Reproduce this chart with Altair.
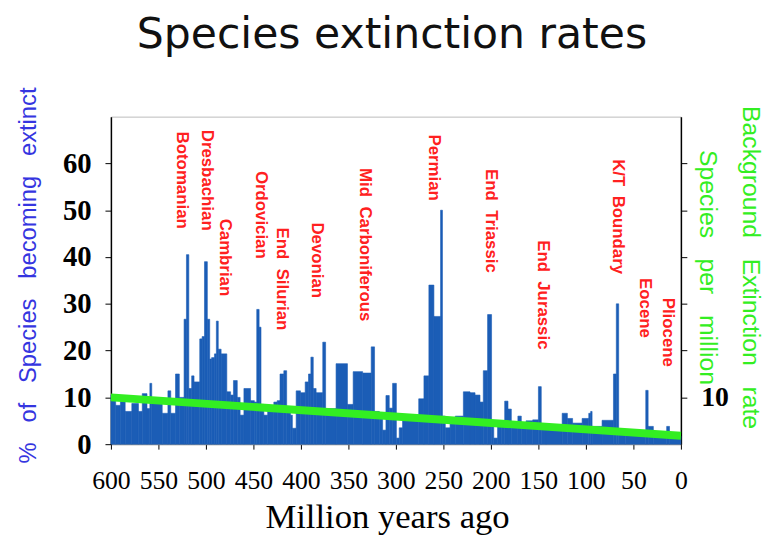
import altair as alt
import pandas as pd

# Step-series of extinction percentages: segment edges (Myr ago) and heights (%)
breaks = [600, 595, 590, 585, 578, 571, 567, 562, 559, 557, 546, 540, 537, 532, 528, 523,
          520.5, 518, 515, 512.5, 506.5, 504, 501.5, 498.5, 496, 494, 491, 489, 487, 484,
          478, 474, 471, 467, 464, 460, 453, 449, 446.5, 444, 442, 439, 435, 428.5, 425,
          422, 418, 415, 411, 409, 405, 400.5, 395.5, 392, 389.5, 387, 384, 377, 374, 363,
          351, 345, 335, 326, 322.5, 317.5, 314, 310.5, 307, 303.5, 299.5, 296.5, 293, 276,
          270.5, 265.3, 260, 253, 251, 248, 243, 237.5, 229, 222, 216.7, 211.5, 208, 203.5,
          199.3, 197, 193, 189, 185.5, 182, 178.5, 171.6, 168, 163, 156, 150, 147, 142, 125,
          119.5, 114, 104, 97, 95, 93.5, 83, 71, 68, 65.5, 58.5, 37, 34.5, 29, 15, 12, 0]
pct_extinct = [10.5, 8.3, 9.1, 7.0, 8.7, 7.0, 10.8, 7.6, 13.0, 8.7, 6.6, 11.4, 6.6, 15.0, 10.0,
               26.7, 40.5, 11.9, 14.6, 13.3, 22.5, 23.0, 39.0, 26.7, 18.2, 18.5, 19.3, 26.3,
               20.3, 19.3, 11.2, 10.5, 13.6, 10.0, 6.2, 11.9, 9.3, 9.0, 28.8, 25.0, 8.5, 6.2,
               7.6, 9.0, 9.3, 15.0, 15.7, 7.6, 6.2, 3.4, 11.4, 11.0, 13.3, 15.0, 18.6, 11.9,
               11.0, 21.8, 7.6, 17.2, 8.5, 15.5, 15.2, 20.8, 7.0, 6.0, 3.0, 10.4, 7.7, 13.0,
               1.3, 3.5, 5.8, 9.7, 14.6, 34.0, 27.3, 50.0, 6.0, 3.5, 4.5, 6.0, 11.2, 11.0,
               10.5, 9.0, 15.7, 27.7, 4.5, 1.3, 4.0, 5.0, 9.2, 7.5, 4.0, 6.0, 4.5, 5.0, 5.2,
               12.3, 4.0, 3.5, 6.6, 5.5, 4.5, 5.5, 6.6, 7.0, 3.8, 5.1, 15.0, 30.0, 2.7, 2.0,
               11.5, 3.8, 2.0, 3.8, 1.7]

# Background extinction rate line
bg_age = [600, 0]
bg_rate = [10.0, 1.8]

# Event labels
event_names = ["Botomanian", "Dresbachian", "Cambrian", "Ordovician", "End\u00a0\u00a0Silurian",
               "Devonian", "Mid\u00a0\u00a0Carboniferous", "Permian", "End\u00a0\u00a0Triassic",
               "End\u00a0\u00a0Jurassic", "K/T\u00a0\u00a0Boundary", "Eocene", "Pliocene"]
event_age = [525, 499, 480, 442, 420, 383, 333, 260, 199.5, 145, 66.7, 38, 14]
event_top = [66.8, 67.2, 48.2, 58.4, 46.3, 47.4, 59.0, 66.2, 58.8, 43.6, 60.9, 35.5, 31.3]

x_ticks = list(range(0, 601, 50))
y_ticks = [0, 10, 20, 30, 40, 50, 60]

BLUE = "#1b5db6"
GREEN = "#33ee22"
RED = "#ff2020"
SP = "\u00a0\u00a0\u00a0"

bar_df = pd.DataFrame({"start": breaks[:-1], "end": breaks[1:], "pct": pct_extinct})
line_df = pd.DataFrame({"age": bg_age, "rate": bg_rate})
ev_df = pd.DataFrame({"name": event_names, "age": event_age, "top": event_top})

xscale = alt.Scale(domain=[0, 600], reverse=True, nice=False, zero=False)
yscale = alt.Scale(domain=[0, 70], nice=False, zero=True)

x_axis = alt.Axis(values=x_ticks, grid=False, labelFont="Liberation Serif", labelFontSize=26,
                  labelColor="black", labelPadding=19, labelFlush=False, labelOverlap=False,
                  tickSize=5, tickColor="black", domainColor="#888888",
                  title="Million years ago", titleFont="Liberation Serif", titleFontSize=35,
                  titleFontWeight="normal", titleColor="black", titleX=279, titleY=84,
                  titleAlign="center", titleBaseline="alphabetic")

left_axis = alt.Axis(values=y_ticks, orient="left", grid=False, labelFont="Liberation Serif",
                     labelFontSize=29, labelFontWeight="bold", labelColor="black",
                     labelPadding=14, tickSize=6, tickColor="black", domainColor="black",
                     domainWidth=1.5,
                     title="%" + SP + "of" + SP + "Species" + SP + "becoming" + SP + "extinct",
                     titleFont="Liberation Sans", titleFontSize=24, titleFontWeight="normal",
                     titleColor="#3535e0", titleAngle=270, titleX=-83, titleY=160,
                     titleAlign="center", titleBaseline="middle")

right_axis = alt.Axis(values=[10, 20, 30, 40, 50, 60], orient="right", grid=False,
                      labelExpr="datum.value == 10 ? '10' : ''",
                      labelFont="Liberation Serif", labelFontSize=28, labelFontWeight="bold",
                      labelColor="black", labelPadding=14, tickSize=6, tickColor="black",
                      domainColor="black", domainWidth=1.5,
                      title=["Background" + SP + "Extinction" + SP + "rate",
                             "Species" + SP + "per" + SP + "million"],
                      titleFont="Liberation Sans", titleFontSize=25, titleFontWeight="normal",
                      titleColor=GREEN, titleAngle=90, titleX=82, titleY=152,
                      titleAlign="center", titleBaseline="top", titleLineHeight=43)

bars = alt.Chart(bar_df).mark_rect(color=BLUE, stroke=BLUE, strokeWidth=0.6).encode(
    x=alt.X("start:Q", scale=xscale, axis=x_axis),
    x2="end:Q",
    y=alt.Y("pct:Q", scale=yscale, axis=left_axis),
    y2=alt.datum(0),
)

labels = alt.Chart(ev_df).mark_text(angle=90, align="left", baseline="middle",
                                    font="Liberation Sans", fontSize=17, fontWeight="bold",
                                    color=RED).encode(
    x=alt.X("age:Q", scale=xscale),
    y=alt.Y("top:Q", scale=yscale, axis=None),
    text="name:N",
)

line = alt.Chart(line_df).mark_line(color=GREEN, strokeWidth=8, strokeCap="butt").encode(
    x=alt.X("age:Q", scale=xscale),
    y=alt.Y("rate:Q", scale=yscale, axis=right_axis),
)

chart = alt.layer(bars, labels, line).resolve_scale(y="independent").properties(
    width=576, height=331,
    padding={"left": 104, "top": 107, "right": 87, "bottom": 89},
    autosize=alt.AutoSizeParams(type="none"),
    background="white",
    title=alt.TitleParams("Species extinction rates", font="DejaVu Sans", fontSize=43,
                          fontWeight="normal", color="#111111", offset=10, anchor="middle",
                          baseline="alphabetic", dx=-4, dy=14, frame="group"),
).configure_view(stroke="#bbbbbb", strokeWidth=1)

chart.save("out.html", embed_options={"renderer": "svg", "actions": False})
